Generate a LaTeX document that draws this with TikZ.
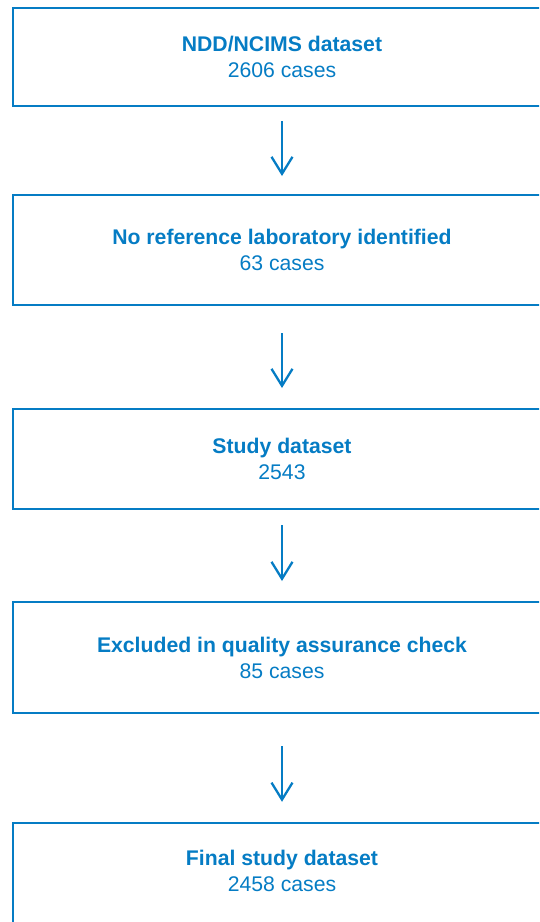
\documentclass[tikz,border=0pt]{standalone}
\usepackage{fontspec}
\setmainfont{Liberation Sans}
\usetikzlibrary{arrows.meta}
\definecolor{flowblue}{RGB}{5,124,196}
\tikzset{
  boxline/.style={draw=flowblue, line width=2pt},
  flowbox/.style={boxline, rectangle, minimum width=538pt, inner sep=0pt,
    align=center, text=flowblue, font=\fontsize{21.2}{26}\selectfont},
  flowtext/.style={rectangle, minimum width=538pt, inner sep=0pt,
    align=center, text=flowblue, font=\fontsize{21.2}{26}\selectfont},
  arr/.style={draw=flowblue, line width=2.3pt,
    -{Straight Barb[length=17pt,width=21pt]}}
}
\begin{document}
\begin{tikzpicture}[x=1pt,y=-1pt]
\useasboundingbox (0,0) rectangle (539,922);
\clip (0,0) rectangle (539,922);
\node[flowbox, minimum height=98pt]  (b1) at (282,57)    {\textbf{NDD/NCIMS dataset}\\2606 cases};
\node[flowbox, minimum height=110pt] (b2) at (282,250)   {\textbf{No reference laboratory identified}\\63 cases};
\node[flowbox, minimum height=100pt] (b3) at (282,459)   {\textbf{Study dataset}\\2543};
\node[flowbox, minimum height=111pt] (b4) at (282,657.5) {\textbf{Excluded in quality assurance check}\\85 cases};
\node[flowtext, minimum height=96pt] (b5) at (282,871)   {\textbf{Final study dataset}\\2458 cases};
\draw[boxline] (b5.south west) ++(0,40) -- (b5.north west) -- (b5.north east) -- ++(0,140);
\draw[arr, shorten <=14pt, shorten >=18pt] (b1.south) -- (b2.north);
\draw[arr, shorten <=27pt, shorten >=20pt] (b2.south) -- (b3.north);
\draw[arr, shorten <=15pt, shorten >=20pt] (b3.south) -- (b4.north);
\draw[arr, shorten <=32pt, shorten >=21pt] (b4.south) -- (b5.north);
\end{tikzpicture}
\end{document}
